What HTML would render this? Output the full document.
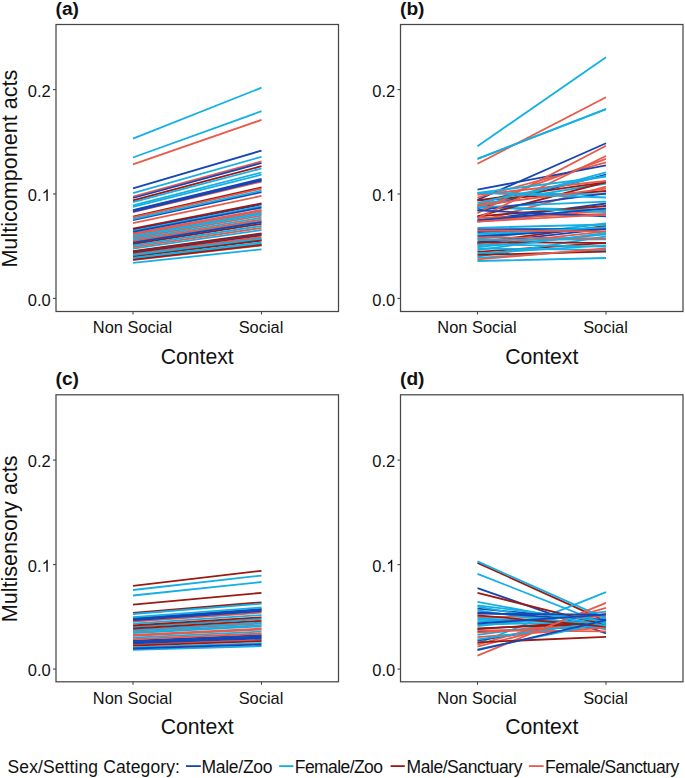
<!DOCTYPE html><html><head><meta charset="utf-8"><style>html,body{margin:0;padding:0;background:#fff;}svg{display:block}</style></head><body>
<svg width="685" height="778" viewBox="0 0 685 778" font-family='"Liberation Sans", sans-serif'>
<rect x="0" y="0" width="685" height="778" fill="#fff"/>
<g stroke-width="1.8" stroke-linecap="butt"><line x1="133.0" y1="233.5" x2="261.5" y2="209.8" stroke="#e85a4a"/><line x1="133.0" y1="255.9" x2="261.5" y2="239.8" stroke="#9b1a12"/><line x1="133.0" y1="212.2" x2="261.5" y2="181.6" stroke="#e85a4a"/><line x1="133.0" y1="216.6" x2="261.5" y2="187.4" stroke="#9b1a12"/><line x1="133.0" y1="206.9" x2="261.5" y2="174.7" stroke="#14afe4"/><line x1="133.0" y1="260.0" x2="261.5" y2="245.4" stroke="#e85a4a"/><line x1="133.0" y1="210.1" x2="261.5" y2="178.8" stroke="#1546b5"/><line x1="133.0" y1="217.5" x2="261.5" y2="188.6" stroke="#e85a4a"/><line x1="133.0" y1="244.0" x2="261.5" y2="223.8" stroke="#9b1a12"/><line x1="133.0" y1="238.0" x2="261.5" y2="215.7" stroke="#e85a4a"/><line x1="133.0" y1="259.0" x2="261.5" y2="244.0" stroke="#14afe4"/><line x1="133.0" y1="242.0" x2="261.5" y2="221.1" stroke="#14afe4"/><line x1="133.0" y1="239.5" x2="261.5" y2="217.7" stroke="#14afe4"/><line x1="133.0" y1="202.2" x2="261.5" y2="168.5" stroke="#14afe4"/><line x1="133.0" y1="138.7" x2="261.5" y2="87.7" stroke="#14afe4"/><line x1="133.0" y1="254.0" x2="261.5" y2="237.3" stroke="#e85a4a"/><line x1="133.0" y1="223.1" x2="261.5" y2="195.9" stroke="#e85a4a"/><line x1="133.0" y1="210.8" x2="261.5" y2="179.8" stroke="#1546b5"/><line x1="133.0" y1="229.5" x2="261.5" y2="204.4" stroke="#1546b5"/><line x1="133.0" y1="252.6" x2="261.5" y2="235.4" stroke="#9b1a12"/><line x1="133.0" y1="259.7" x2="261.5" y2="245.0" stroke="#9b1a12"/><line x1="133.0" y1="230.9" x2="261.5" y2="206.3" stroke="#14afe4"/><line x1="133.0" y1="262.9" x2="261.5" y2="249.3" stroke="#14afe4"/><line x1="133.0" y1="240.9" x2="261.5" y2="219.6" stroke="#e85a4a"/><line x1="133.0" y1="251.7" x2="261.5" y2="234.2" stroke="#1546b5"/><line x1="133.0" y1="220.2" x2="261.5" y2="192.1" stroke="#1546b5"/><line x1="133.0" y1="157.5" x2="261.5" y2="111.2" stroke="#14afe4"/><line x1="133.0" y1="248.6" x2="261.5" y2="230.0" stroke="#14afe4"/><line x1="133.0" y1="219.1" x2="261.5" y2="190.7" stroke="#14afe4"/><line x1="133.0" y1="247.1" x2="261.5" y2="227.9" stroke="#e85a4a"/><line x1="133.0" y1="200.4" x2="261.5" y2="166.2" stroke="#9b1a12"/><line x1="133.0" y1="256.5" x2="261.5" y2="240.6" stroke="#9b1a12"/><line x1="133.0" y1="235.6" x2="261.5" y2="212.5" stroke="#14afe4"/><line x1="133.0" y1="236.7" x2="261.5" y2="214.0" stroke="#14afe4"/><line x1="133.0" y1="196.7" x2="261.5" y2="161.4" stroke="#e85a4a"/><line x1="133.0" y1="164.4" x2="261.5" y2="119.9" stroke="#e85a4a"/><line x1="133.0" y1="211.5" x2="261.5" y2="180.6" stroke="#1546b5"/><line x1="133.0" y1="242.7" x2="261.5" y2="222.1" stroke="#1546b5"/><line x1="133.0" y1="257.9" x2="261.5" y2="242.5" stroke="#14afe4"/><line x1="133.0" y1="251.1" x2="261.5" y2="233.4" stroke="#9b1a12"/><line x1="133.0" y1="231.9" x2="261.5" y2="207.6" stroke="#1546b5"/><line x1="133.0" y1="198.0" x2="261.5" y2="163.0" stroke="#1546b5"/><line x1="133.0" y1="245.6" x2="261.5" y2="225.9" stroke="#14afe4"/><line x1="133.0" y1="193.2" x2="261.5" y2="156.8" stroke="#14afe4"/><line x1="133.0" y1="188.4" x2="261.5" y2="150.6" stroke="#1546b5"/><line x1="133.0" y1="255.0" x2="261.5" y2="238.7" stroke="#14afe4"/><line x1="133.0" y1="234.4" x2="261.5" y2="211.0" stroke="#e85a4a"/><line x1="133.0" y1="205.3" x2="261.5" y2="172.5" stroke="#14afe4"/><line x1="133.0" y1="228.7" x2="261.5" y2="203.4" stroke="#9b1a12"/></g>
<rect x="56.0" y="24.5" width="282.5" height="287.0" fill="none" stroke="#474747" stroke-width="1.25"/>
<line x1="53.0" y1="298.4" x2="56.0" y2="298.4" stroke="#474747" stroke-width="1.1"/>
<text x="50.8" y="305.5" font-size="16.5" text-anchor="end" fill="#111111">0.0</text>
<line x1="53.0" y1="194.0" x2="56.0" y2="194.0" stroke="#474747" stroke-width="1.1"/>
<text x="41.62" y="201.1" font-size="16.5" text-anchor="end" fill="#111111">0.</text>
<path transform="translate(41.62,201.10) scale(0.008057,-0.008057)" d="M763 0L583 0L583 1147Q518 1085 412 1023Q306 961 222 930L222 1104Q373 1175 486 1276Q599 1377 646 1472L763 1472Z" fill="#111111"/>
<line x1="53.0" y1="89.6" x2="56.0" y2="89.6" stroke="#474747" stroke-width="1.1"/>
<text x="50.8" y="96.7" font-size="16.5" text-anchor="end" fill="#111111">0.2</text>
<line x1="133.0" y1="311.5" x2="133.0" y2="314.5" stroke="#474747" stroke-width="1.1"/>
<text x="132.5" y="333.4" font-size="16.4" text-anchor="middle" fill="#111111">Non Social</text>
<line x1="261.5" y1="311.5" x2="261.5" y2="314.5" stroke="#474747" stroke-width="1.1"/>
<text x="261.0" y="333.4" font-size="16.4" text-anchor="middle" fill="#111111">Social</text>
<text x="197.2" y="363.5" font-size="21.2" text-anchor="middle" fill="#111111">Context</text>
<text x="55.5" y="15.0" font-size="19.2" font-weight="bold" fill="#111111">(a)</text>
<g stroke-width="1.8" stroke-linecap="butt"><line x1="477.5" y1="242.3" x2="606.0" y2="225.8" stroke="#9b1a12"/><line x1="477.5" y1="221.6" x2="606.0" y2="210.5" stroke="#e85a4a"/><line x1="477.5" y1="251.9" x2="606.0" y2="242.9" stroke="#9b1a12"/><line x1="477.5" y1="256.7" x2="606.0" y2="236.4" stroke="#14afe4"/><line x1="477.5" y1="146.2" x2="606.0" y2="57.3" stroke="#14afe4"/><line x1="477.5" y1="220.4" x2="606.0" y2="203.5" stroke="#1546b5"/><line x1="477.5" y1="238.9" x2="606.0" y2="223.5" stroke="#14afe4"/><line x1="477.5" y1="204.3" x2="606.0" y2="183.5" stroke="#14afe4"/><line x1="477.5" y1="208.5" x2="606.0" y2="174.5" stroke="#1546b5"/><line x1="477.5" y1="235.3" x2="606.0" y2="227.4" stroke="#14afe4"/><line x1="477.5" y1="227.8" x2="606.0" y2="224.5" stroke="#14afe4"/><line x1="477.5" y1="207.3" x2="606.0" y2="209.7" stroke="#14afe4"/><line x1="477.5" y1="205.5" x2="606.0" y2="158.9" stroke="#e85a4a"/><line x1="477.5" y1="261.0" x2="606.0" y2="258.0" stroke="#14afe4"/><line x1="477.5" y1="245.4" x2="606.0" y2="231.4" stroke="#e85a4a"/><line x1="477.5" y1="221.6" x2="606.0" y2="186.6" stroke="#e85a4a"/><line x1="477.5" y1="199.9" x2="606.0" y2="143.3" stroke="#1546b5"/><line x1="477.5" y1="247.0" x2="606.0" y2="234.3" stroke="#14afe4"/><line x1="477.5" y1="229.3" x2="606.0" y2="228.9" stroke="#1546b5"/><line x1="477.5" y1="158.9" x2="606.0" y2="109.1" stroke="#14afe4"/><line x1="477.5" y1="163.7" x2="606.0" y2="97.3" stroke="#e85a4a"/><line x1="477.5" y1="232.0" x2="606.0" y2="228.9" stroke="#1546b5"/><line x1="477.5" y1="216.4" x2="606.0" y2="206.0" stroke="#9b1a12"/><line x1="477.5" y1="207.3" x2="606.0" y2="212.0" stroke="#14afe4"/><line x1="477.5" y1="216.4" x2="606.0" y2="182.2" stroke="#9b1a12"/><line x1="477.5" y1="243.3" x2="606.0" y2="228.9" stroke="#1546b5"/><line x1="477.5" y1="257.9" x2="606.0" y2="249.8" stroke="#14afe4"/><line x1="477.5" y1="200.4" x2="606.0" y2="182.2" stroke="#9b1a12"/><line x1="477.5" y1="158.9" x2="606.0" y2="109.1" stroke="#14afe4"/><line x1="477.5" y1="242.3" x2="606.0" y2="242.9" stroke="#9b1a12"/><line x1="477.5" y1="207.3" x2="606.0" y2="172.3" stroke="#14afe4"/><line x1="477.5" y1="197.5" x2="606.0" y2="162.3" stroke="#e85a4a"/><line x1="477.5" y1="253.5" x2="606.0" y2="245.4" stroke="#14afe4"/><line x1="477.5" y1="236.4" x2="606.0" y2="228.9" stroke="#1546b5"/><line x1="477.5" y1="218.1" x2="606.0" y2="213.9" stroke="#e85a4a"/><line x1="477.5" y1="189.6" x2="606.0" y2="165.4" stroke="#1546b5"/><line x1="477.5" y1="207.3" x2="606.0" y2="201.6" stroke="#14afe4"/><line x1="477.5" y1="200.4" x2="606.0" y2="191.0" stroke="#9b1a12"/><line x1="477.5" y1="192.9" x2="606.0" y2="194.3" stroke="#14afe4"/><line x1="477.5" y1="240.0" x2="606.0" y2="239.4" stroke="#14afe4"/><line x1="477.5" y1="248.5" x2="606.0" y2="249.8" stroke="#14afe4"/><line x1="477.5" y1="254.8" x2="606.0" y2="251.6" stroke="#9b1a12"/><line x1="477.5" y1="210.4" x2="606.0" y2="193.3" stroke="#1546b5"/><line x1="477.5" y1="237.5" x2="606.0" y2="238.4" stroke="#e85a4a"/><line x1="477.5" y1="194.8" x2="606.0" y2="181.0" stroke="#e85a4a"/><line x1="477.5" y1="250.0" x2="606.0" y2="232.8" stroke="#14afe4"/><line x1="477.5" y1="205.5" x2="606.0" y2="188.7" stroke="#e85a4a"/><line x1="477.5" y1="218.1" x2="606.0" y2="156.0" stroke="#e85a4a"/><line x1="477.5" y1="220.4" x2="606.0" y2="208.3" stroke="#1546b5"/><line x1="477.5" y1="213.1" x2="606.0" y2="145.8" stroke="#e85a4a"/><line x1="477.5" y1="233.9" x2="606.0" y2="227.4" stroke="#14afe4"/><line x1="477.5" y1="259.3" x2="606.0" y2="248.5" stroke="#e85a4a"/><line x1="477.5" y1="192.9" x2="606.0" y2="197.5" stroke="#14afe4"/><line x1="477.5" y1="230.5" x2="606.0" y2="231.4" stroke="#e85a4a"/><line x1="477.5" y1="192.9" x2="606.0" y2="176.6" stroke="#14afe4"/><line x1="477.5" y1="210.4" x2="606.0" y2="216.4" stroke="#1546b5"/><line x1="477.5" y1="221.6" x2="606.0" y2="214.6" stroke="#e85a4a"/><line x1="477.5" y1="202.8" x2="606.0" y2="175.8" stroke="#14afe4"/><line x1="477.5" y1="244.3" x2="606.0" y2="246.6" stroke="#14afe4"/></g>
<rect x="400.5" y="24.5" width="282.5" height="287.0" fill="none" stroke="#474747" stroke-width="1.25"/>
<line x1="397.5" y1="298.4" x2="400.5" y2="298.4" stroke="#474747" stroke-width="1.1"/>
<text x="395.3" y="305.5" font-size="16.5" text-anchor="end" fill="#111111">0.0</text>
<line x1="397.5" y1="194.0" x2="400.5" y2="194.0" stroke="#474747" stroke-width="1.1"/>
<text x="386.12" y="201.1" font-size="16.5" text-anchor="end" fill="#111111">0.</text>
<path transform="translate(386.12,201.10) scale(0.008057,-0.008057)" d="M763 0L583 0L583 1147Q518 1085 412 1023Q306 961 222 930L222 1104Q373 1175 486 1276Q599 1377 646 1472L763 1472Z" fill="#111111"/>
<line x1="397.5" y1="89.6" x2="400.5" y2="89.6" stroke="#474747" stroke-width="1.1"/>
<text x="395.3" y="96.7" font-size="16.5" text-anchor="end" fill="#111111">0.2</text>
<line x1="477.5" y1="311.5" x2="477.5" y2="314.5" stroke="#474747" stroke-width="1.1"/>
<text x="477.0" y="333.4" font-size="16.4" text-anchor="middle" fill="#111111">Non Social</text>
<line x1="606.0" y1="311.5" x2="606.0" y2="314.5" stroke="#474747" stroke-width="1.1"/>
<text x="605.5" y="333.4" font-size="16.4" text-anchor="middle" fill="#111111">Social</text>
<text x="541.8" y="363.5" font-size="21.2" text-anchor="middle" fill="#111111">Context</text>
<text x="400.0" y="15.0" font-size="19.2" font-weight="bold" fill="#111111">(b)</text>
<g stroke-width="1.8" stroke-linecap="butt"><line x1="133.0" y1="642.5" x2="261.5" y2="637.4" stroke="#1546b5"/><line x1="133.0" y1="647.3" x2="261.5" y2="643.1" stroke="#14afe4"/><line x1="133.0" y1="641.6" x2="261.5" y2="636.3" stroke="#1546b5"/><line x1="133.0" y1="630.8" x2="261.5" y2="623.5" stroke="#e85a4a"/><line x1="133.0" y1="619.5" x2="261.5" y2="610.2" stroke="#1546b5"/><line x1="133.0" y1="644.7" x2="261.5" y2="640.0" stroke="#e85a4a"/><line x1="133.0" y1="626.9" x2="261.5" y2="618.9" stroke="#14afe4"/><line x1="133.0" y1="621.6" x2="261.5" y2="612.7" stroke="#e85a4a"/><line x1="133.0" y1="595.5" x2="261.5" y2="582.0" stroke="#14afe4"/><line x1="133.0" y1="633.2" x2="261.5" y2="626.4" stroke="#14afe4"/><line x1="133.0" y1="618.5" x2="261.5" y2="609.0" stroke="#1546b5"/><line x1="133.0" y1="649.9" x2="261.5" y2="646.2" stroke="#14afe4"/><line x1="133.0" y1="632.2" x2="261.5" y2="625.2" stroke="#14afe4"/><line x1="133.0" y1="635.9" x2="261.5" y2="629.6" stroke="#e85a4a"/><line x1="133.0" y1="640.7" x2="261.5" y2="635.2" stroke="#1546b5"/><line x1="133.0" y1="612.8" x2="261.5" y2="602.3" stroke="#9b1a12"/><line x1="133.0" y1="648.5" x2="261.5" y2="644.5" stroke="#1546b5"/><line x1="133.0" y1="617.2" x2="261.5" y2="607.5" stroke="#14afe4"/><line x1="133.0" y1="590.0" x2="261.5" y2="575.6" stroke="#14afe4"/><line x1="133.0" y1="629.9" x2="261.5" y2="622.5" stroke="#14afe4"/><line x1="133.0" y1="604.7" x2="261.5" y2="592.8" stroke="#9b1a12"/><line x1="133.0" y1="635.0" x2="261.5" y2="628.5" stroke="#e85a4a"/><line x1="133.0" y1="614.0" x2="261.5" y2="603.7" stroke="#14afe4"/><line x1="133.0" y1="643.4" x2="261.5" y2="638.5" stroke="#1546b5"/><line x1="133.0" y1="628.5" x2="261.5" y2="620.8" stroke="#9b1a12"/><line x1="133.0" y1="585.8" x2="261.5" y2="570.8" stroke="#9b1a12"/><line x1="133.0" y1="623.7" x2="261.5" y2="615.1" stroke="#14afe4"/><line x1="133.0" y1="637.6" x2="261.5" y2="631.6" stroke="#14afe4"/><line x1="133.0" y1="625.5" x2="261.5" y2="617.3" stroke="#9b1a12"/><line x1="133.0" y1="639.2" x2="261.5" y2="633.5" stroke="#e85a4a"/><line x1="133.0" y1="620.4" x2="261.5" y2="611.2" stroke="#1546b5"/><line x1="133.0" y1="645.7" x2="261.5" y2="641.2" stroke="#9b1a12"/></g>
<rect x="56.0" y="394.8" width="282.5" height="287.0" fill="none" stroke="#474747" stroke-width="1.25"/>
<line x1="53.0" y1="669.1" x2="56.0" y2="669.1" stroke="#474747" stroke-width="1.1"/>
<text x="50.8" y="676.2" font-size="16.5" text-anchor="end" fill="#111111">0.0</text>
<line x1="53.0" y1="564.6" x2="56.0" y2="564.6" stroke="#474747" stroke-width="1.1"/>
<text x="41.62" y="571.7" font-size="16.5" text-anchor="end" fill="#111111">0.</text>
<path transform="translate(41.62,571.70) scale(0.008057,-0.008057)" d="M763 0L583 0L583 1147Q518 1085 412 1023Q306 961 222 930L222 1104Q373 1175 486 1276Q599 1377 646 1472L763 1472Z" fill="#111111"/>
<line x1="53.0" y1="460.1" x2="56.0" y2="460.1" stroke="#474747" stroke-width="1.1"/>
<text x="50.8" y="467.2" font-size="16.5" text-anchor="end" fill="#111111">0.2</text>
<line x1="133.0" y1="681.8" x2="133.0" y2="684.8" stroke="#474747" stroke-width="1.1"/>
<text x="132.5" y="703.7" font-size="16.4" text-anchor="middle" fill="#111111">Non Social</text>
<line x1="261.5" y1="681.8" x2="261.5" y2="684.8" stroke="#474747" stroke-width="1.1"/>
<text x="261.0" y="703.7" font-size="16.4" text-anchor="middle" fill="#111111">Social</text>
<text x="197.2" y="733.8" font-size="21.2" text-anchor="middle" fill="#111111">Context</text>
<text x="55.5" y="385.3" font-size="19.2" font-weight="bold" fill="#111111">(c)</text>
<g stroke-width="1.8" stroke-linecap="butt"><line x1="477.5" y1="621.6" x2="606.0" y2="625.8" stroke="#14afe4"/><line x1="477.5" y1="631.5" x2="606.0" y2="626.0" stroke="#1546b5"/><line x1="477.5" y1="562.9" x2="606.0" y2="621.1" stroke="#9b1a12"/><line x1="477.5" y1="588.1" x2="606.0" y2="633.3" stroke="#1546b5"/><line x1="477.5" y1="634.8" x2="606.0" y2="618.3" stroke="#14afe4"/><line x1="477.5" y1="626.2" x2="606.0" y2="611.6" stroke="#14afe4"/><line x1="477.5" y1="643.5" x2="606.0" y2="592.1" stroke="#14afe4"/><line x1="477.5" y1="640.6" x2="606.0" y2="620.2" stroke="#1546b5"/><line x1="477.5" y1="644.7" x2="606.0" y2="607.8" stroke="#e85a4a"/><line x1="477.5" y1="619.8" x2="606.0" y2="622.7" stroke="#14afe4"/><line x1="477.5" y1="608.7" x2="606.0" y2="620.2" stroke="#1546b5"/><line x1="477.5" y1="617.0" x2="606.0" y2="616.6" stroke="#e85a4a"/><line x1="477.5" y1="646.6" x2="606.0" y2="613.3" stroke="#e85a4a"/><line x1="477.5" y1="632.7" x2="606.0" y2="624.3" stroke="#e85a4a"/><line x1="477.5" y1="610.4" x2="606.0" y2="629.0" stroke="#14afe4"/><line x1="477.5" y1="618.5" x2="606.0" y2="622.7" stroke="#14afe4"/><line x1="477.5" y1="606.7" x2="606.0" y2="629.0" stroke="#14afe4"/><line x1="477.5" y1="628.3" x2="606.0" y2="623.5" stroke="#9b1a12"/><line x1="477.5" y1="637.1" x2="606.0" y2="627.5" stroke="#e85a4a"/><line x1="477.5" y1="630.4" x2="606.0" y2="631.3" stroke="#e85a4a"/><line x1="477.5" y1="649.3" x2="606.0" y2="622.7" stroke="#14afe4"/><line x1="477.5" y1="629.1" x2="606.0" y2="620.5" stroke="#9b1a12"/><line x1="477.5" y1="639.3" x2="606.0" y2="621.6" stroke="#14afe4"/><line x1="477.5" y1="624.7" x2="606.0" y2="621.6" stroke="#14afe4"/><line x1="477.5" y1="561.4" x2="606.0" y2="618.6" stroke="#14afe4"/><line x1="477.5" y1="615.4" x2="606.0" y2="626.5" stroke="#9b1a12"/><line x1="477.5" y1="612.5" x2="606.0" y2="620.2" stroke="#1546b5"/><line x1="477.5" y1="655.6" x2="606.0" y2="602.9" stroke="#e85a4a"/><line x1="477.5" y1="592.9" x2="606.0" y2="624.8" stroke="#9b1a12"/><line x1="477.5" y1="642.3" x2="606.0" y2="636.8" stroke="#9b1a12"/><line x1="477.5" y1="573.9" x2="606.0" y2="624.3" stroke="#14afe4"/><line x1="477.5" y1="605.3" x2="606.0" y2="621.6" stroke="#14afe4"/><line x1="477.5" y1="601.8" x2="606.0" y2="625.8" stroke="#14afe4"/><line x1="477.5" y1="623.5" x2="606.0" y2="614.6" stroke="#1546b5"/><line x1="477.5" y1="613.7" x2="606.0" y2="614.6" stroke="#1546b5"/><line x1="477.5" y1="650.2" x2="606.0" y2="620.2" stroke="#1546b5"/></g>
<rect x="400.5" y="394.8" width="282.5" height="287.0" fill="none" stroke="#474747" stroke-width="1.25"/>
<line x1="397.5" y1="669.1" x2="400.5" y2="669.1" stroke="#474747" stroke-width="1.1"/>
<text x="395.3" y="676.2" font-size="16.5" text-anchor="end" fill="#111111">0.0</text>
<line x1="397.5" y1="564.6" x2="400.5" y2="564.6" stroke="#474747" stroke-width="1.1"/>
<text x="386.12" y="571.7" font-size="16.5" text-anchor="end" fill="#111111">0.</text>
<path transform="translate(386.12,571.70) scale(0.008057,-0.008057)" d="M763 0L583 0L583 1147Q518 1085 412 1023Q306 961 222 930L222 1104Q373 1175 486 1276Q599 1377 646 1472L763 1472Z" fill="#111111"/>
<line x1="397.5" y1="460.1" x2="400.5" y2="460.1" stroke="#474747" stroke-width="1.1"/>
<text x="395.3" y="467.2" font-size="16.5" text-anchor="end" fill="#111111">0.2</text>
<line x1="477.5" y1="681.8" x2="477.5" y2="684.8" stroke="#474747" stroke-width="1.1"/>
<text x="477.0" y="703.7" font-size="16.4" text-anchor="middle" fill="#111111">Non Social</text>
<line x1="606.0" y1="681.8" x2="606.0" y2="684.8" stroke="#474747" stroke-width="1.1"/>
<text x="605.5" y="703.7" font-size="16.4" text-anchor="middle" fill="#111111">Social</text>
<text x="541.8" y="733.8" font-size="21.2" text-anchor="middle" fill="#111111">Context</text>
<text x="400.0" y="385.3" font-size="19.2" font-weight="bold" fill="#111111">(d)</text>
<text transform="translate(17.4,168.6) rotate(-90)" x="0" y="0" font-size="21.6" text-anchor="middle" fill="#111111">Multicomponent acts</text>
<text transform="translate(17.4,538.9) rotate(-90)" x="0" y="0" font-size="21.6" text-anchor="middle" fill="#111111">Multisensory acts</text>
<text x="7.5" y="772.5" font-size="17.5" textLength="172.4" lengthAdjust="spacing" fill="#111111">Sex/Setting Category:</text>
<text x="201.5" y="772.5" font-size="17.5" textLength="71.0" lengthAdjust="spacing" fill="#111111">Male/Zoo</text>
<text x="294.8" y="772.5" font-size="17.5" textLength="88.2" lengthAdjust="spacing" fill="#111111">Female/Zoo</text>
<text x="406.5" y="772.5" font-size="17.5" textLength="115.9" lengthAdjust="spacing" fill="#111111">Male/Sanctuary</text>
<text x="545.0" y="772.5" font-size="17.5" textLength="134.2" lengthAdjust="spacing" fill="#111111">Female/Sanctuary</text>
<line x1="186" y1="766.1" x2="200.8" y2="766.1" stroke="#1546b5" stroke-width="1.8"/>
<line x1="279.1" y1="766.1" x2="293.5" y2="766.1" stroke="#14afe4" stroke-width="1.8"/>
<line x1="390.6" y1="766.1" x2="404.8" y2="766.1" stroke="#9b1a12" stroke-width="1.8"/>
<line x1="528.9" y1="766.1" x2="543.6" y2="766.1" stroke="#e85a4a" stroke-width="1.8"/>
</svg></body></html>
